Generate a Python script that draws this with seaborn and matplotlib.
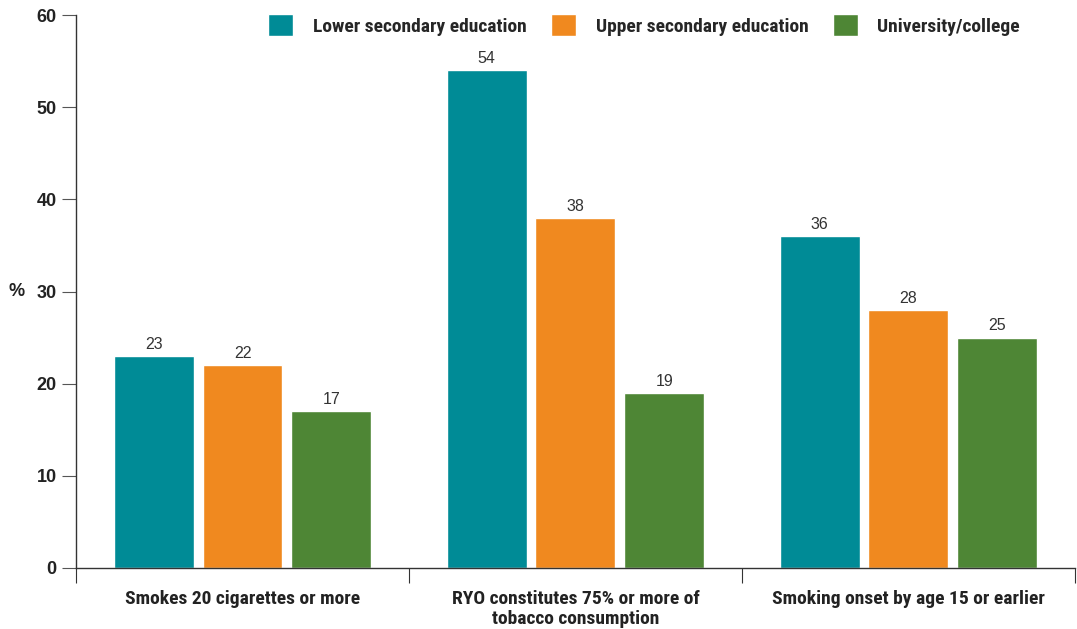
import pandas as pd
import matplotlib
matplotlib.use('Agg')
import matplotlib.pyplot as plt
import seaborn as sns
from matplotlib.ticker import FixedLocator
from matplotlib import font_manager

sns.set_theme(style='white')
plt.rcParams['font.family'] = ['Liberation Sans', 'DejaVu Sans']

names = sorted({f.name for f in font_manager.fontManager.ttflist})

categories = ['Smokes 20 cigarettes or more',
              'RYO constitutes 75% or more of\ntobacco consumption',
              'Smoking onset by age 15 or earlier']
groups = ['Lower secondary education', 'Upper secondary education', 'University/college']
lower_secondary = [23, 54, 36]
upper_secondary = [22, 38, 28]
university = [17, 19, 25]
colors = ['#008B96', '#F0891F', '#4E8635']

df = pd.DataFrame({
    'category': categories * 3,
    'group': [groups[0]] * 3 + [groups[1]] * 3 + [groups[2]] * 3,
    'value': lower_secondary + upper_secondary + university,
})

fig = plt.figure(figsize=(10.77, 6.29), dpi=100)
ax = fig.add_axes([0.0706, 0.097, 0.9274, 0.879])

sns.barplot(data=df, x='category', y='value', hue='group', hue_order=groups,
            palette=colors, width=0.8, gap=0.1, saturation=1, ax=ax, legend=True)

for c in ax.containers:
    ax.bar_label(c, padding=3, fontsize=11.5, color='#333333')

ax.set_ylim(0, 60)
ax.set_xlim(-0.5, 2.5)
ax.set_yticks(range(0, 61, 10))
ax.set_yticklabels([str(v) for v in range(0, 61, 10)], fontsize=13, fontweight='bold', color='#222222')
ax.tick_params(axis='y', which='major', left=True, length=10, width=0.8, color='#555555', pad=4)

# condensed bold for category and legend text
narrow = [n for n in ['Liberation Sans Narrow', 'DejaVu Sans Condensed', 'Roboto Condensed'] if n in names]
narrow = narrow + ['Liberation Sans', 'DejaVu Sans']
ax.set_xticks(range(3))
ax.set_xticklabels(categories, fontsize=14, fontweight='bold', color='#222222', family=narrow,
                   linespacing=1.1)
ax.tick_params(axis='x', which='major', length=0, pad=16)
ax.xaxis.set_minor_locator(FixedLocator([-0.5, 0.5, 1.5, 2.5]))
ax.tick_params(axis='x', which='minor', bottom=True, length=11, width=0.8, color='#333333')

for s in ['top', 'right']:
    ax.spines[s].set_visible(False)
ax.spines['left'].set_color('#333333')
ax.spines['bottom'].set_color('#333333')
ax.spines['left'].set_linewidth(1.0)
ax.spines['bottom'].set_linewidth(1.0)

ax.set_xlabel('')
ax.set_ylabel('%', rotation=0, fontsize=13, fontweight='bold', color='#222222', va='center')
ax.yaxis.set_label_coords(-0.06, 0.5)

handles, labels = ax.get_legend_handles_labels()
ax.get_legend().remove()
fig.legend(handles, labels, loc='center', bbox_to_anchor=(0.598, 0.96), ncol=3,
           frameon=False, handlelength=1.3, handleheight=1.4, handletextpad=1.0,
           columnspacing=1.25, prop={'family': narrow, 'weight': 'bold', 'size': 14})

fig.savefig('out.png', dpi=100)
